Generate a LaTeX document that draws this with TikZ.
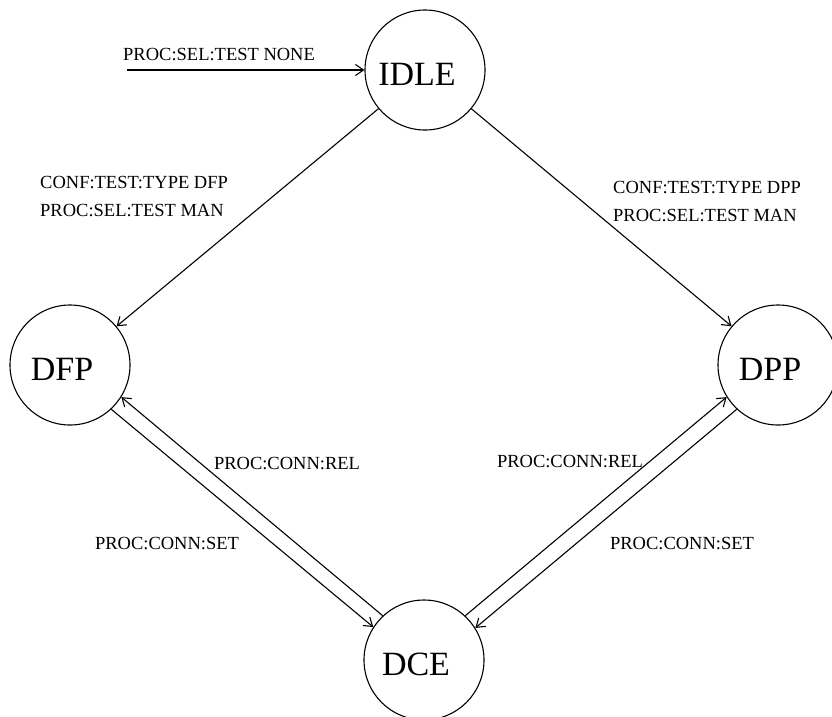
\documentclass[tikz,border=0pt]{standalone}
\usepackage{fontspec}
\setmainfont{Liberation Serif}
\usetikzlibrary{arrows.meta}

\begin{document}
\begin{tikzpicture}[x=1pt, y=-1pt, >={Straight Barb[length=8pt,width=11pt]},
    state/.style={draw, circle, minimum size=120pt, inner sep=0pt, line width=1.1pt},
    statename/.style={xshift=-8pt, yshift=-4pt, font=\fontsize{34}{40}\selectfont},
    cmd/.style={font=\fontsize{18.5}{28}\selectfont, inner sep=0pt, align=left},
    trans/.style={->, line width=1.1pt}]
    \useasboundingbox (0,0) rectangle (832,716);

    % States
    \node[state, label={[statename]center:IDLE}] (idle) at (425,70) {};
    \node[state, label={[statename]center:DFP}] (dfp) at (70,365) {};
    \node[state, label={[statename]center:DPP}] (dpp) at (778,365) {};
    \node[state, label={[statename]center:DCE}] (dce) at (424,660) {};

    % Entry into IDLE
    \coordinate (start) at (127,70);
    \draw[trans] (start) -- (idle);
    \node[cmd, anchor=west] (selnone) at (123,55) {PROC:SEL:TEST NONE};

    % IDLE to the two test types
    \draw[trans] (idle) -- (dfp);
    \draw[trans] (idle) -- (dpp);
    \node[cmd, anchor=west] (typedfp) at (40,196) {CONF:TEST:TYPE DFP\\PROC:SEL:TEST MAN};
    \node[cmd, anchor=west] (typedpp) at (613,201) {CONF:TEST:TYPE DPP\\PROC:SEL:TEST MAN};

    % Connection set / release, DFP side
    \draw[trans] (dfp.-47) -- (dce.147.4);
    \draw[trans] (dce.133) -- (dfp.-32.6);
    \node[cmd] (relleft) at (287,463) {PROC:CONN:REL};
    \node[cmd] (setleft) at (167,543) {PROC:CONN:SET};

    % Connection set / release, DPP side
    \draw[trans] (dce.47) -- (dpp.212.6);
    \draw[trans] (dpp.227) -- (dce.32.6);
    \node[cmd] (relright) at (570,461) {PROC:CONN:REL};
    \node[cmd] (setright) at (682,543) {PROC:CONN:SET};
\end{tikzpicture}
\end{document}
